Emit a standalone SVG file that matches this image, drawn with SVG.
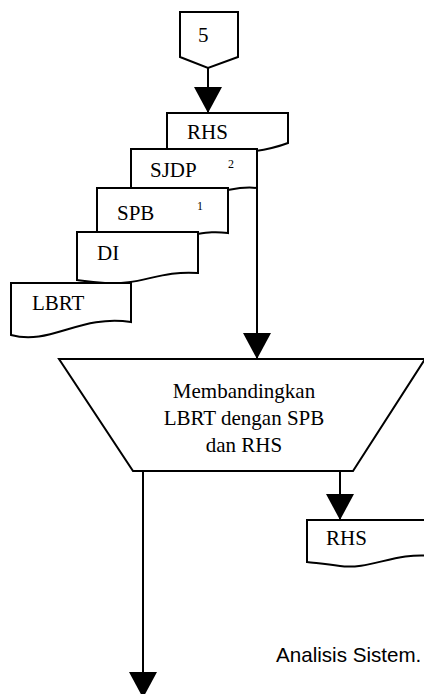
<svg xmlns="http://www.w3.org/2000/svg" width="424" height="694" viewBox="0 0 424 694">
  <style>
    .shape { fill: #ffffff; stroke: #000000; stroke-width: 2; stroke-linejoin: miter; }
    .line { fill: none; stroke: #000000; stroke-width: 2; }
    .label { font-family: "Liberation Serif", "Times New Roman", serif; font-size: 21px; fill: #000000; }
    .sup { font-family: "Liberation Serif", "Times New Roman", serif; font-size: 12px; fill: #000000; }
    .center { text-anchor: middle; }
    .note { font-family: "Liberation Sans", Arial, sans-serif; font-size: 20.6px; fill: #000000; }
  </style>
  <defs>
    <marker id="arrow" markerUnits="userSpaceOnUse" viewBox="0 -14 26 28" refX="26" refY="0" markerWidth="26" markerHeight="28" orient="auto" overflow="visible">
      <path d="M0,-14 L26,0 L0,14 Z" fill="#000000"/>
    </marker>
  </defs>

  <rect width="424" height="694" fill="#ffffff"/>

  <!-- off-page connector -->
  <g id="connector-5">
    <path class="shape" d="M180,12 H238 V57 L208,68 L180,57 Z"/>
    <text class="label" x="198" y="42">5</text>
  </g>

  <!-- stacked documents -->
  <g id="doc-rhs">
    <path class="shape" d="M167,113 H288 V143 C262,153 200,160 167,150 Z"/>
    <text class="label" x="187" y="139">RHS</text>
  </g>
  <g id="doc-sjdp">
    <path class="shape" d="M131,149 H257 V188 C240,186 232,190 215,192 C180,196 160,193 131,190 Z"/>
    <text class="label" x="150" y="177">SJDP</text>
    <text class="sup" x="228" y="168">2</text>
  </g>
  <g id="doc-spb">
    <path class="shape" d="M97,188 H228 V233 C212,231 205,233 190,235 C150,240 125,238 97,236 Z"/>
    <text class="label" x="117" y="220">SPB</text>
    <text class="sup" x="197" y="210">1</text>
  </g>
  <g id="doc-di">
    <path class="shape" d="M77,232 H198 V273 C160,270 140,286 105,283 C92,282 85,281 77,280 Z"/>
    <text class="label" x="97" y="260">DI</text>
  </g>
  <g id="doc-lbrt">
    <path class="shape" d="M11,283 H131 V322 C80,314 50,346 11,335 Z"/>
    <text class="label" x="32" y="310">LBRT</text>
  </g>

  <!-- manual operation -->
  <g id="process-compare">
    <path class="shape" d="M59,359 H425 L353,471 H133 Z"/>
    <text class="label center" x="244" y="398">Membandingkan</text>
    <text class="label center" x="244" y="425">LBRT dengan SPB</text>
    <text class="label center" x="244" y="452">dan RHS</text>
  </g>

  <!-- output document -->
  <g id="doc-rhs-out">
    <path class="shape" d="M307,520 H432 V556 C395,552 370,570 340,566 C325,564 315,563 307,562 Z"/>
    <text class="label" x="326" y="545">RHS</text>
  </g>

  <!-- flow lines -->
  <g id="connectors">
    <line class="line" x1="208" y1="68" x2="208" y2="113" marker-end="url(#arrow)"/>
    <line class="line" x1="257" y1="188" x2="257" y2="359" marker-end="url(#arrow)"/>
    <line class="line" x1="340" y1="471" x2="340" y2="520" marker-end="url(#arrow)"/>
    <line class="line" x1="143" y1="471" x2="143" y2="698" marker-end="url(#arrow)"/>
  </g>

  <text class="note" x="276" y="662">Analisis Sistem.</text>
</svg>
